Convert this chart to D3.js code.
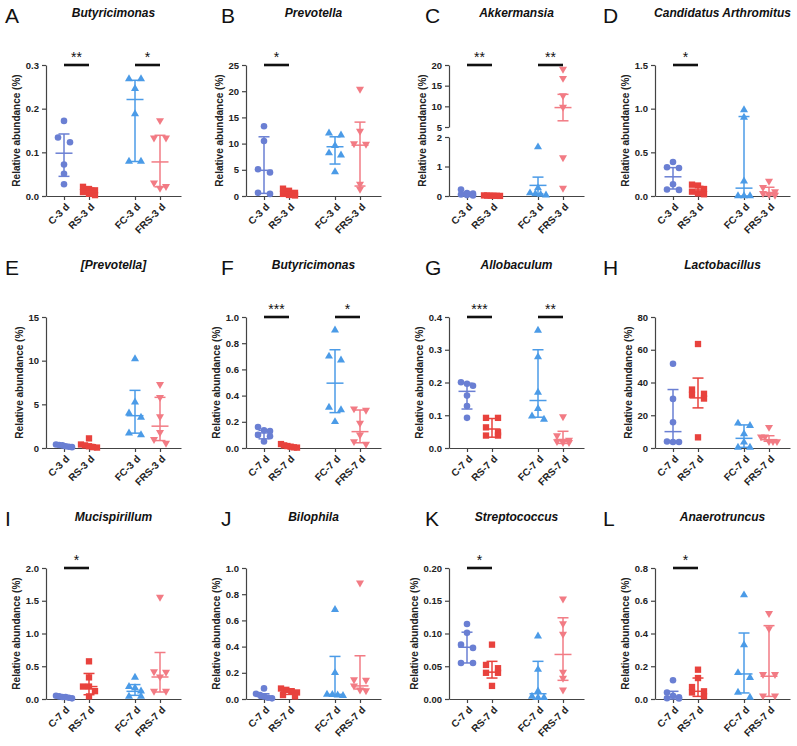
<!DOCTYPE html>
<html>
<head>
<meta charset="utf-8">
<script src="https://cdn.jsdelivr.net/npm/d3@7"></script>
<style>
  body { margin: 0; background: #fff; }
  svg { display: block; font-family: Arial, "Liberation Sans", sans-serif; }
</style>
</head>
<body>
<svg id="chart" width="797" height="746"></svg>
<script>
// ---- data ----
const letters = ["A","B","C","D","E","F","G","H","I","J","K","L"];
const titles = ["Butyricimonas","Prevotella","Akkermansia","Candidatus Arthromitus",
  "[Prevotella]","Butyricimonas","Allobaculum","Lactobacillus",
  "Mucispirillum","Bilophila","Streptococcus","Anaerotruncus"];
const groups3 = ["C-3 d","RS-3 d","FC-3 d","FRS-3 d"];
const groups7 = ["C-7 d","RS-7 d","FC-7 d","FRS-7 d"];
const panelDay = [3,3,3,3,3,7,7,7,7,7,7,7];

const yTicks = [
  [0,0.1,0.2,0.3], [0,5,10,15,20,25], null, [0,0.5,1.0,1.5],
  [0,5,10,15], [0,0.2,0.4,0.6,0.8,1.0], [0,0.1,0.2,0.3,0.4], [0,20,40,60,80],
  [0,0.5,1.0,1.5,2.0], [0,0.2,0.4,0.6,0.8,1.0], [0,0.05,0.10,0.15,0.20], [0,0.2,0.4,0.6,0.8]
];
const yFormats = [".1f","d","d",".1f","d",".1f",".1f","d",".1f",".1f",".2f",".1f"];
// panel C has a broken y axis
const breakLowTicks = [0,1,2];
const breakHighTicks = [5,10,15,20];

// per panel: [C, RS, FC, FRS]
const points = [
  [[0.172,0.134,0.123,0.072,0.051,0.027],[0.021,0.016,0.013,0.009,0.005,0.002],[0.268,0.268,0.246,0.188,0.079,0.079],[0.173,0.133,0.133,0.030,0.022,0.018]],
  [[13.3,10.5,5.1,4.5,0.6,0.4],[1.4,1.0,0.6,0.4,0.2,0.1],[12.0,11.6,9.6,8.2,7.8,4.6],[20.4,12.4,10.0,9.9,2.3,1.3]],
  [[0.22,0.10,0.08,0.05,0.03,0.02],[0.02,0.015,0.01,0.01,0.005,0.003],[1.66,0.27,0.10,0.07,0.05,0.03],[19.0,16.8,12.6,9.8,1.3,0.27]],
  [[0.39,0.33,0.32,0.135,0.075,0.07],[0.13,0.12,0.08,0.05,0.03,0.02],[0.985,0.90,0.17,0.0,0.0,0.0],[0.17,0.10,0.05,0.03,0.02,0.01]],
  [[0.4,0.35,0.3,0.2,0.15,0.1],[1.1,0.4,0.3,0.2,0.1,0.05],[10.2,5.25,4.0,3.5,1.7,1.5],[7.3,5.8,3.6,1.8,1.0,0.57]],
  [[0.16,0.135,0.13,0.1,0.09,0.05],[0.03,0.02,0.015,0.01,0.005,0.003],[0.90,0.70,0.67,0.31,0.29,0.20],[0.30,0.29,0.19,0.10,0.05,0.03]],
  [[0.201,0.196,0.19,0.16,0.128,0.092],[0.092,0.092,0.063,0.048,0.038,0.038],[0.359,0.278,0.17,0.12,0.097,0.087],[0.096,0.038,0.024,0.02,0.017,0.017]],
  [[51.4,30.0,15.7,4.0,3.7,3.7],[63.5,35.7,33.1,32.5,30.2,6.5],[15.1,13.7,8.6,3.5,0.4,0.4],[12.7,6.9,6.9,4.1,4.0,4.0]],
  [[0.05,0.04,0.03,0.03,0.02,0.01],[0.575,0.33,0.19,0.19,0.12,0.04],[0.33,0.19,0.17,0.12,0.04,0.04],[1.557,0.42,0.41,0.34,0.12,0.12]],
  [[0.081,0.04,0.03,0.02,0.01,0.005],[0.08,0.07,0.06,0.05,0.03,0.02],[0.682,0.20,0.035,0.033,0.03,0.025],[0.886,0.148,0.145,0.10,0.07,0.065]],
  [[0.1145,0.101,0.083,0.078,0.055,0.055],[0.083,0.052,0.047,0.04,0.04,0.02],[0.096,0.045,0.012,0.004,0.002,0.002],[0.153,0.115,0.099,0.041,0.032,0.014]],
  [[0.114,0.04,0.02,0.01,0.005,0.003],[0.179,0.128,0.073,0.047,0.04,0.016],[0.635,0.33,0.16,0.13,0.04,0.01],[0.523,0.43,0.15,0.15,0.02,0.02]]
];
const centers = [
  [0.098,0.010,0.221,0.078],[4.9,0.4,9.4,9.7],[0.06,0.01,0.36,9.7],[0.22,0.07,0.09,0.04],
  [0.25,0.2,3.7,2.5],[0.115,0.01,0.495,0.125],[0.173,0.058,0.145,0.026],[10.0,30.6,5.9,5.1],
  [0.03,0.19,0.117,0.336],[0.02,0.055,0.035,0.1],[0.079,0.041,0.008,0.068],[0.012,0.047,0.153,0.139]
];
const lows = [
  [0.045,0.004,0.079,0.021],[0.5,0.15,6.1,1.9],[0.02,0.004,0.07,6.5],[0.08,0.03,0.0,0.01],
  [0.12,0.07,1.7,0.85],[0.07,0.004,0.27,0.04],[0.119,0.033,0.094,0.014],[3.7,24.5,0.4,4.1],
  [0.02,0.065,0.056,0.107],[0.005,0.035,0.025,0.076],[0.055,0.032,0.0,0.0285],[0.0,0.016,0.037,0.016]
];
const highs = [
  [0.142,0.018,0.265,0.139],[11.3,1.0,11.3,14.1],[0.12,0.015,0.64,12.9],[0.325,0.11,0.91,0.10],
  [0.35,0.4,6.6,5.8],[0.135,0.02,0.75,0.29],[0.198,0.09,0.30,0.051],[35.7,42.7,14.1,7.5],
  [0.04,0.39,0.22,0.71],[0.04,0.07,0.325,0.33],[0.102,0.0575,0.0575,0.124],[0.047,0.128,0.403,0.448]
];
// significance: [group a, group b, label]
const sigs = [
  [[0,1,"**"],[2,3,"*"]], [[0,1,"*"]], [[0,1,"**"],[2,3,"**"]], [[0,1,"*"]],
  [], [[0,1,"***"],[2,3,"*"]], [[0,1,"***"],[2,3,"**"]], [],
  [[0,1,"*"]], [], [[0,1,"*"]], [[0,1,"*"]]
];

// ---- layout ----
const colX = [46, 246, 449, 655];
const rowTop = [65, 317, 568];
const plotH = 131, plotW = 135;
const letterX = [5, 221, 425, 603];
const letterY = [23, 275, 526];
const titleY = [17, 269, 521];
const groupPos = [0.72, 1.72, 3.56, 4.56];
const colors = ["#6a7fd3", "#e8423d", "#4b9be7", "#f27b84"];
const shapes = [d3.symbolCircle, d3.symbolSquare, d3.symbolTriangle, d3.symbolTriangle];
const sizes = [34, 40, 28, 28];
const turns = [0, 0, 0, 180];
const axisColor = "#444";

const svg = d3.select("#chart");

function styleAxis(sel) {
  sel.attr("font-family", null).attr("font-size", null);
  sel.selectAll("path.domain").attr("stroke", axisColor).attr("stroke-width", 1.2);
  sel.selectAll(".tick line").attr("stroke", axisColor).attr("stroke-width", 1.2);
  sel.selectAll("text").attr("fill", "#222").attr("font-size", 9.5).attr("font-weight", "bold");
}

// spread points that sit on the same level, like a GraphPad scatter
function spread(vals, y) {
  const pts = vals.map(v => ({v, py: y(v)})).sort((a, b) => a.py - b.py);
  const rows = [];
  pts.forEach(p => {
    const last = rows[rows.length - 1];
    if (last && p.py - last[0].py < 5) last.push(p); else rows.push([p]);
  });
  rows.forEach(row => {
    const n = row.length;
    let offs;
    if (n === 1) offs = [0];
    else if (n === 2) offs = [-6, 6];
    else {
      const step = Math.min(6, 16 / (n - 1));
      offs = d3.range(n).map(k => (k - (n - 1) / 2) * step);
    }
    row.forEach((p, k) => p.dx = offs[k]);
  });
  return pts;
}

titles.forEach((title, i) => {
  const r = Math.floor(i / 4), c = i % 4;
  const ax = colX[c], top = rowTop[r], base = top + plotH;
  const g = svg.append("g");
  const labels = panelDay[i] === 3 ? groups3 : groups7;

  let y, axes;
  if (i === 2) {
    const yLo = d3.scaleLinear().domain([0, 2]).range([base, base - 59]);
    const yHi = d3.scaleLinear().domain([5, 20]).range([base - 69, top]);
    y = v => v <= 3.5 ? yLo(v) : yHi(v);
    axes = [[yLo, breakLowTicks], [yHi, breakHighTicks]];
  } else {
    y = d3.scaleLinear().domain([0, d3.max(yTicks[i])]).range([base, top]);
    axes = [[y, yTicks[i]]];
  }
  const fmt = d3.format(yFormats[i]);

  // y axis
  let maxW = 0;
  axes.forEach(([s, t]) => {
    const ya = g.append("g").attr("transform", `translate(${ax},0)`)
      .call(d3.axisLeft(s).tickValues(t).tickFormat(fmt).tickSize(4).tickSizeOuter(0).tickPadding(3));
    styleAxis(ya);
    ya.selectAll("text").each(function() { maxW = Math.max(maxW, this.getComputedTextLength()); });
  });

  // x axis
  const x = d3.scaleLinear().domain([0, 5.4]).range([ax, ax + plotW]);
  const xa = g.append("g").attr("transform", `translate(0,${base})`)
    .call(d3.axisBottom(x).tickValues(groupPos).tickFormat((d, k) => labels[k]).tickSize(4).tickSizeOuter(0));
  styleAxis(xa);
  xa.selectAll("text").attr("x", 0).attr("y", 0).attr("dy", "0.35em").attr("font-size", 10)
    .attr("transform", "translate(3,9) rotate(-45)").style("text-anchor", "end");

  // y label
  g.append("text")
    .attr("transform", `translate(${ax - maxW - 15},${(top + base) / 2}) rotate(-90)`)
    .attr("text-anchor", "middle").attr("dominant-baseline", "middle")
    .attr("font-size", 10).attr("font-weight", "bold").attr("fill", "#222")
    .text("Relative abundance (%)");

  // letter + title
  svg.append("text").attr("x", letterX[c]).attr("y", letterY[r])
    .attr("font-size", 21).attr("fill", "#111").text(letters[i]);
  svg.append("text").attr("x", ax + plotW / 2).attr("y", titleY[r])
    .attr("text-anchor", "middle").attr("font-size", 12).attr("font-weight", "bold")
    .attr("font-style", "italic").attr("fill", "#111").text(title);

  // points
  points[i].forEach((vals, k) => {
    const gx = x(groupPos[k]);
    const sym = d3.symbol().type(shapes[k]).size(sizes[k]);
    g.append("g").selectAll("path").data(spread(vals, y)).join("path")
      .attr("d", sym)
      .attr("transform", p => `translate(${gx + p.dx},${p.py}) rotate(${turns[k]})`)
      .attr("fill", colors[k]);
  });

  // center line + error bars
  points[i].forEach((vals, k) => {
    const gx = x(groupPos[k]);
    const eg = g.append("g").attr("stroke", colors[k]).attr("stroke-width", 1.5);
    eg.append("line").attr("x1", gx).attr("x2", gx).attr("y1", y(lows[i][k])).attr("y2", y(highs[i][k]));
    [lows[i][k], highs[i][k]].forEach(v => {
      eg.append("line").attr("x1", gx - 5.5).attr("x2", gx + 5.5).attr("y1", y(v)).attr("y2", y(v));
    });
    eg.append("line").attr("x1", gx - 8.5).attr("x2", gx + 8.5)
      .attr("y1", y(centers[i][k])).attr("y2", y(centers[i][k]));
  });

  // significance bars
  sigs[i].forEach(([a, b, lab]) => {
    const x1 = x(groupPos[a]), x2 = x(groupPos[b]);
    g.append("line").attr("x1", x1).attr("x2", x2).attr("y1", top).attr("y2", top)
      .attr("stroke", "#111").attr("stroke-width", 2.6);
    g.append("text").attr("x", (x1 + x2) / 2).attr("y", top - 3)
      .attr("text-anchor", "middle").attr("font-size", 14).attr("fill", "#111").text(lab);
  });
});
</script>
</body>
</html>
